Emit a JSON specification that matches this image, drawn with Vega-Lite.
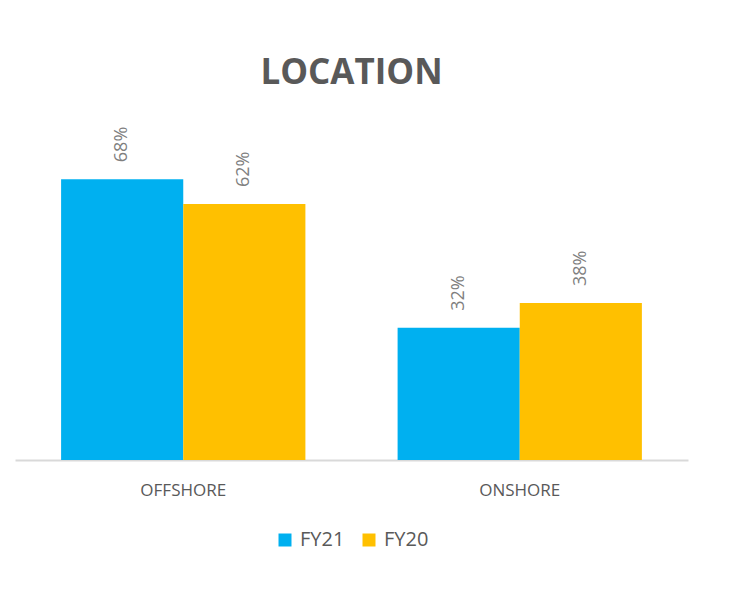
{
  "$schema": "https://vega.github.io/schema/vega-lite/v6.json",
  "autosize": "none",
  "width": 673,
  "height": 351,
  "padding": {"left": 15, "top": 109, "right": 42, "bottom": 132},
  "background": "white",
  "title": {
    "text": "LOCATION",
    "font": "Open Sans",
    "fontSize": 35,
    "fontWeight": "bold",
    "color": "#595959",
    "anchor": "middle",
    "offset": 18
  },
  "data": {
    "values": [
      {"location": "OFFSHORE", "year": "FY21", "value": 0.68},
      {"location": "OFFSHORE", "year": "FY20", "value": 0.62},
      {"location": "ONSHORE", "year": "FY21", "value": 0.32},
      {"location": "ONSHORE", "year": "FY20", "value": 0.38}
    ]
  },
  "encoding": {
    "x": {
      "field": "location",
      "type": "nominal",
      "sort": ["OFFSHORE", "ONSHORE"],
      "scale": {"paddingInner": 0.274, "paddingOuter": 0.137},
      "axis": {
        "title": null,
        "labelAngle": 0,
        "ticks": false,
        "domainColor": "#d9d9d9",
        "domainWidth": 2,
        "labelFont": "Open Sans",
        "labelFontSize": 17,
        "labelColor": "#595959",
        "labelPadding": 22
      }
    },
    "xOffset": {
      "field": "year",
      "type": "nominal",
      "sort": ["FY21", "FY20"],
      "scale": {"paddingInner": 0, "paddingOuter": 0}
    },
    "y": {
      "field": "value",
      "type": "quantitative",
      "scale": {"domain": [0, 0.85]},
      "axis": null
    }
  },
  "layer": [
    {
      "mark": {"type": "bar"},
      "encoding": {
        "color": {
          "field": "year",
          "type": "nominal",
          "scale": {"domain": ["FY21", "FY20"], "range": ["#00B0F0", "#FFC000"]},
          "legend": {
            "title": null,
            "orient": "bottom",
            "direction": "horizontal",
            "symbolType": "square",
            "symbolSize": 169,
            "symbolStrokeWidth": 0,
            "labelFont": "Open Sans",
            "labelFontSize": 20,
            "labelColor": "#595959",
            "columnPadding": 14,
            "labelOffset": 5,
            "offset": 32
          }
        }
      }
    },
    {
      "mark": {
        "type": "text",
        "angle": 270,
        "align": "left",
        "baseline": "middle",
        "dx": 17,
        "font": "Open Sans",
        "fontSize": 18,
        "color": "#7f7f7f"
      },
      "encoding": {
        "text": {"field": "value", "type": "quantitative", "format": ".0%"}
      }
    }
  ],
  "config": {
    "view": {"stroke": null},
    "legend": {"layout": {"bottom": {"anchor": "middle"}}}
  }
}
